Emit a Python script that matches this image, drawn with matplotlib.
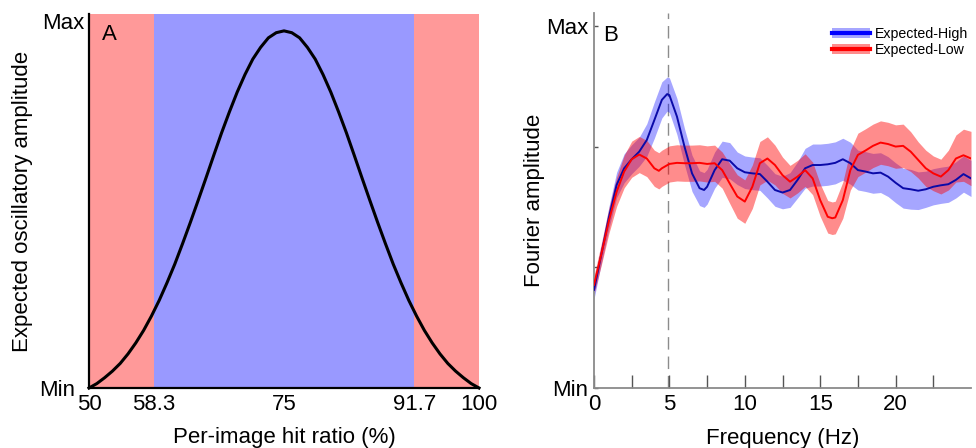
import numpy as np
import matplotlib
matplotlib.use('Agg')
import matplotlib.pyplot as plt
from matplotlib.patches import Patch
from matplotlib.lines import Line2D
from matplotlib.legend_handler import HandlerTuple
import matplotlib.transforms as mtransforms

plt.rcParams['font.family'] = ['Liberation Sans', 'DejaVu Sans']

# ---------------- Panel A data ----------------
hit_ratio = np.arange(50, 101, 1)
expected_amp = [0.000, 0.012, 0.028, 0.046, 0.067, 0.093, 0.123, 0.157, 0.196, 0.239,
                0.287, 0.338, 0.394, 0.452, 0.512, 0.573, 0.635, 0.696, 0.753, 0.807,
                0.855, 0.897, 0.929, 0.955, 0.969, 0.974, 0.969, 0.955, 0.929, 0.897,
                0.855, 0.807, 0.753, 0.696, 0.635, 0.573, 0.512, 0.452, 0.394, 0.338,
                0.287, 0.239, 0.196, 0.157, 0.123, 0.093, 0.067, 0.046, 0.028, 0.012,
                0.000]
zone_edges = [50, 58.3, 91.7, 100]
zone_colors = ['#ff9999', '#9999ff', '#ff9999']
a_xticks = [50, 58.3, 75, 91.7, 100]
a_xticklabels = ['50', '58.3', '75', '91.7', '100']

# ---------------- Panel B data ----------------
freq_high = [0, 0.5, 1, 1.5, 2, 2.5, 3, 3.5, 4, 4.5, 4.85, 5, 5.5, 6, 6.5, 7, 7.3,
             7.5, 8, 8.5, 9, 9.5, 10, 10.5, 11, 11.5, 12, 12.5, 13, 13.5, 14, 14.5,
             15, 15.5, 16, 16.5, 17, 17.5, 18, 18.5, 19, 19.5, 20, 20.5, 21, 21.5,
             22, 22.5, 23, 23.5, 24, 24.5, 25]
amp_high = [0.271, 0.372, 0.473, 0.561, 0.607, 0.632, 0.653, 0.685, 0.740, 0.796,
            0.812, 0.809, 0.750, 0.667, 0.593, 0.552, 0.547, 0.556, 0.602, 0.632,
            0.628, 0.607, 0.596, 0.593, 0.591, 0.570, 0.547, 0.540, 0.547, 0.575,
            0.607, 0.616, 0.616, 0.618, 0.622, 0.632, 0.621, 0.602, 0.598, 0.593,
            0.595, 0.584, 0.567, 0.552, 0.549, 0.545, 0.549, 0.556, 0.560, 0.563,
            0.575, 0.591, 0.579]
err_high = [0.025, 0.025, 0.03, 0.035, 0.04, 0.04, 0.04, 0.045, 0.05, 0.05,
            0.047, 0.048, 0.05, 0.05, 0.05, 0.048, 0.048, 0.048, 0.05, 0.05,
            0.05, 0.045, 0.045, 0.045, 0.045, 0.045, 0.045, 0.045, 0.048, 0.05,
            0.055, 0.058, 0.058, 0.058, 0.058, 0.058, 0.058, 0.055, 0.055, 0.055,
            0.055, 0.055, 0.055, 0.055, 0.055, 0.052, 0.05, 0.05, 0.05, 0.05,
            0.05, 0.05, 0.05]

freq_low = [0, 0.5, 1, 1.5, 2, 2.5, 3, 3.5, 4, 4.3, 4.5, 5, 5.5, 6, 6.5, 7, 7.5,
            8, 8.5, 9, 9.5, 10, 10.5, 11, 11.5, 12, 12.5, 13, 13.5, 14, 14.5, 15,
            15.5, 15.8, 16, 16.5, 17, 17.5, 18, 18.5, 19, 19.5, 20, 20.5, 21, 21.5,
            22, 22.5, 23, 23.5, 24, 24.5, 25]
amp_low = [0.285, 0.372, 0.464, 0.542, 0.598, 0.632, 0.645, 0.634, 0.607, 0.600,
           0.607, 0.619, 0.622, 0.621, 0.621, 0.622, 0.619, 0.621, 0.602, 0.565,
           0.529, 0.515, 0.556, 0.621, 0.634, 0.616, 0.588, 0.570, 0.584, 0.602,
           0.579, 0.519, 0.473, 0.469, 0.471, 0.519, 0.602, 0.644, 0.656, 0.669,
           0.678, 0.674, 0.667, 0.669, 0.653, 0.630, 0.607, 0.593, 0.584, 0.602,
           0.634, 0.643, 0.634]
err_low = [0.025, 0.03, 0.035, 0.04, 0.045, 0.05, 0.05, 0.05, 0.05, 0.05,
           0.05, 0.05, 0.05, 0.05, 0.05, 0.05, 0.05, 0.05, 0.05, 0.055,
           0.06, 0.06, 0.06, 0.06, 0.06, 0.055, 0.05, 0.045, 0.045, 0.045,
           0.045, 0.045, 0.045, 0.045, 0.045, 0.05, 0.055, 0.06, 0.06, 0.06,
           0.06, 0.06, 0.06, 0.06, 0.055, 0.05, 0.05, 0.048, 0.048, 0.055,
           0.065, 0.072, 0.075]
peak_freq = 4.9
b_xticks = [2.5, 5, 7.5, 10, 12.5, 15, 17.5, 20, 22.5]
b_xlabel_ticks = [0, 5, 10, 15, 20]
b_yticks = [0, 1/3, 2/3, 1]
b_yticklabels = ['Min', '', '', 'Max']
legend_labels = ['Expected-High', 'Expected-Low']

FS = 16
fig = plt.figure(figsize=(9.76, 4.48), dpi=100)

# ---------------- Panel A ----------------
axA = fig.add_axes([89/976, 1 - 388/448, 390/976, 374/448])
for i, c in enumerate(zone_colors):
    axA.axvspan(zone_edges[i], zone_edges[i + 1], color=c, lw=0, zorder=0)
axA.plot(hit_ratio, expected_amp, color='black', lw=2.2, zorder=3, clip_on=False)
axA.set_xlim(50, 100)
axA.set_ylim(0, 1.02)
axA.set_xticks(a_xticks)
axA.set_xticklabels(a_xticklabels)
axA.set_yticks([0, 1])
axA.set_yticklabels(['Min', 'Max'])
axA.tick_params(axis='both', length=0, labelsize=FS)
axA.tick_params(axis='x', pad=4)
axA.tick_params(axis='y', pad=3)
for s in ['top', 'right']:
    axA.spines[s].set_visible(False)
for s in ['left', 'bottom']:
    axA.spines[s].set_linewidth(1.6)
    axA.spines[s].set_color('black')
    axA.spines[s].set_zorder(4)
# shift the "Min" label leftwards like in the reference
minlab = axA.get_yticklabels()[0]
minlab.set_transform(minlab.get_transform() +
                     mtransforms.ScaledTranslation(-10/100, 0, fig.dpi_scale_trans))
axA.set_ylabel('Expected oscillatory amplitude', fontsize=FS)
axA.set_xlabel('Per-image hit ratio (%)', fontsize=FS)
axA.yaxis.set_label_coords(-0.143, 0.5)
axA.xaxis.set_label_coords(0.5, -0.104)
axA.xaxis.label.set_va('top')
axA.text(0.033, 0.945, 'A', transform=axA.transAxes, fontsize=FS,
         ha='left', va='center', zorder=5)

# ---------------- Panel B ----------------
axB = fig.add_axes([594/976, 1 - 388/448, 377/976, 375/448])
high_lo = np.array(amp_high) - np.array(err_high)
high_hi = np.array(amp_high) + np.array(err_high)
low_lo = np.array(amp_low) - np.array(err_low)
low_hi = np.array(amp_low) + np.array(err_low)
axB.fill_between(freq_high, high_lo, high_hi, color='#0000ff', alpha=0.35, lw=0, zorder=1)
axB.fill_between(freq_low, low_lo, low_hi, color='#ff0000', alpha=0.45, lw=0, zorder=2)
axB.plot(freq_high, amp_high, color='#0a0aa8', lw=1.4, zorder=3)
axB.plot(freq_low, amp_low, color='#ff0000', lw=1.4, zorder=4)
axB.axvline(peak_freq, color='#8c8c8c', lw=1.0, ls=(0, (9, 5)), zorder=0)
axB.set_xlim(0, 25)
axB.set_ylim(0, 1.036)
axB.set_xticks(b_xticks)
axB.set_xticklabels([str(int(t)) if t in b_xlabel_ticks else '' for t in b_xticks])
axB.set_xticks([0], minor=True)
axB.set_xticklabels(['0'], minor=True)
axB.set_yticks(b_yticks)
axB.set_yticklabels(b_yticklabels)
axB.tick_params(axis='x', which='both', direction='in', length=9.5, width=1.0,
                color='#555555', labelsize=FS, pad=4)
axB.tick_params(axis='y', direction='in', length=3, width=1.0,
                color='#555555', labelsize=FS, pad=4)
for s in ['top', 'right']:
    axB.spines[s].set_visible(False)
for s in ['left', 'bottom']:
    axB.spines[s].set_linewidth(1.3)
    axB.spines[s].set_color('#8a8a8a')
axB.set_ylabel('Fourier amplitude', fontsize=FS)
axB.set_xlabel('Frequency (Hz)', fontsize=FS)
axB.yaxis.set_label_coords(-0.130, 0.5)
axB.xaxis.set_label_coords(0.5, -0.107)
axB.xaxis.label.set_va('top')
axB.text(0.024, 0.941, 'B', transform=axB.transAxes, fontsize=FS,
         ha='left', va='center', zorder=5)

handles = [(Patch(facecolor='#0000ff', alpha=0.35, edgecolor='none'),
            Line2D([], [], color='#0000ff', lw=3)),
           (Patch(facecolor='#ff0000', alpha=0.45, edgecolor='none'),
            Line2D([], [], color='#ff0000', lw=3))]
axB.legend(handles, legend_labels, handler_map={tuple: HandlerTuple(ndivide=1)},
           loc='upper right', bbox_to_anchor=(1.0, 0.97), frameon=False,
           fontsize=10.2, handlelength=2.7, handleheight=0.75, handletextpad=0.35,
           labelspacing=0.15, borderaxespad=0, borderpad=0.2)

fig.savefig('out.png', dpi=100)
